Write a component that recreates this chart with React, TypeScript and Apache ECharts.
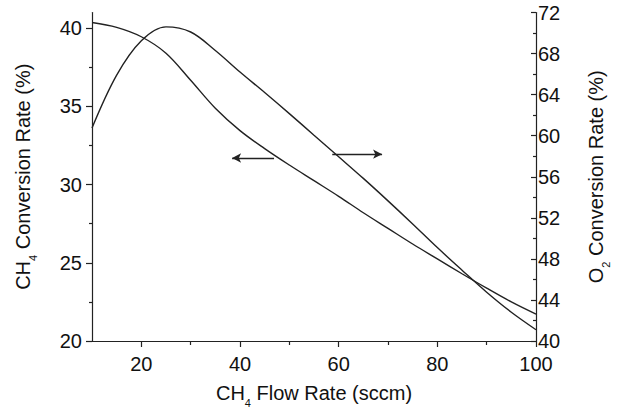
import React, { useEffect, useRef } from 'react';
import * as echarts from 'echarts';

// CH4 flow rate (sccm)
const flowRate = [10, 15, 20, 25, 30, 35, 40, 45, 50, 55, 60, 65, 70, 75, 80, 85, 90, 95, 100];
// CH4 conversion rate (%) - left axis
const ch4Conversion = [40.36, 40.05, 39.45, 38.4, 36.67, 34.88, 33.45, 32.3, 31.25, 30.25, 29.25, 28.2, 27.2, 26.2, 25.25, 24.3, 23.38, 22.5, 21.72];
// O2 conversion rate (%) - right axis
const o2Conversion = [60.75, 65.9, 69.25, 70.6, 70.1, 68.3, 66.2, 64.2, 62.15, 60.05, 57.95, 55.84, 53.65, 51.4, 49.1, 46.9, 44.75, 42.8, 41.1];

const xMajorTicks = [20, 40, 60, 80, 100];
const xMinorTicks = [30, 50, 70, 90];
const leftMajorTicks = [20, 25, 30, 35, 40];
const leftMinorTicks = [22.5, 27.5, 32.5, 37.5];

// annotation arrows (data coordinates: [flow, value])
const leftArrowFrom = [46.9, 31.7];
const leftArrowTo = [38.4, 31.7];
const rightArrowFrom = [58.7, 58.2];
const rightArrowTo = [68.8, 58.2];

const FONT = '"Liberation Sans", Arial, sans-serif';
const INK = '#111';
const LINE = '#222';

export default function App() {
  const ref = useRef<HTMLDivElement>(null);
  useEffect(() => {
    if (!ref.current) return;
    const chart = echarts.init(ref.current, undefined, { renderer: 'svg' });
    const titleStyle = {
      fontSize: 20,
      fontFamily: FONT,
      color: INK,
      rich: {
        s: { fontSize: 11, fontFamily: FONT, color: INK, padding: [19, 0, 0, 0] },
      },
    };
    const tickLabel = { fontSize: 20, fontFamily: FONT, color: INK };
    chart.setOption({
      animation: false,
      backgroundColor: '#fff',
      grid: { left: 92, right: 82, top: 12.5, bottom: 68.5 },
      xAxis: [
        {
          type: 'value',
          min: 10,
          max: 100,
          position: 'bottom',
          name: 'CH{s|4} Flow Rate (sccm)',
          nameLocation: 'middle',
          nameGap: 37,
          nameTextStyle: titleStyle,
          axisLine: { show: true, lineStyle: { color: LINE, width: 1.2 } },
          axisTick: { show: true, length: 6, customValues: xMajorTicks, lineStyle: { color: LINE, width: 1.2 } },
          axisLabel: { ...tickLabel, margin: 13, customValues: xMajorTicks },
          splitLine: { show: false },
        },
        {
          type: 'value',
          min: 10,
          max: 100,
          position: 'bottom',
          axisLine: { show: false },
          axisTick: { show: true, length: 4, customValues: xMinorTicks, lineStyle: { color: LINE, width: 1.2 } },
          axisLabel: { show: false },
          splitLine: { show: false },
        },
      ],
      yAxis: [
        {
          type: 'value',
          min: 20,
          max: 41,
          position: 'left',
          name: 'CH{s|4} Conversion Rate (%)',
          nameLocation: 'middle',
          nameRotate: 90,
          nameGap: 54,
          nameTextStyle: titleStyle,
          axisLine: { show: true, lineStyle: { color: LINE, width: 1.2 } },
          axisTick: { show: true, length: 6, customValues: leftMajorTicks, lineStyle: { color: LINE, width: 1.2 } },
          axisLabel: { ...tickLabel, margin: 10, customValues: leftMajorTicks },
          splitLine: { show: false },
        },
        {
          type: 'value',
          min: 40,
          max: 72,
          interval: 4,
          position: 'right',
          name: 'O{s|2} Conversion Rate (%)',
          nameLocation: 'middle',
          nameRotate: 90,
          nameGap: 45,
          nameTextStyle: titleStyle,
          axisLine: { show: true, lineStyle: { color: LINE, width: 1.2 } },
          axisTick: { show: true, inside: true, length: 5, lineStyle: { color: LINE, width: 1.2 } },
          minorTick: { show: true, splitNumber: 2, length: 3, lineStyle: { color: LINE, width: 1.2 } },
          axisLabel: { ...tickLabel, margin: 2 },
          splitLine: { show: false },
        },
        {
          type: 'value',
          min: 20,
          max: 41,
          position: 'left',
          axisLine: { show: false },
          axisTick: { show: true, length: 3, customValues: leftMinorTicks, lineStyle: { color: LINE, width: 1.2 } },
          axisLabel: { show: false },
          splitLine: { show: false },
        },
      ],
      series: [
        {
          type: 'line',
          xAxisIndex: 0,
          yAxisIndex: 0,
          data: flowRate.map((x, i) => [x, ch4Conversion[i]]),
          smooth: 0.35,
          showSymbol: false,
          symbol: 'none',
          lineStyle: { color: LINE, width: 1.4 },
          silent: true,
          markLine: {
            silent: true,
            symbol: ['none', 'arrow'],
            symbolSize: [7, 9],
            label: { show: false },
            lineStyle: { color: LINE, width: 1.4, type: 'solid' },
            data: [[{ coord: leftArrowFrom }, { coord: leftArrowTo }]],
          },
        },
        {
          type: 'line',
          xAxisIndex: 0,
          yAxisIndex: 1,
          data: flowRate.map((x, i) => [x, o2Conversion[i]]),
          smooth: 0.35,
          showSymbol: false,
          symbol: 'none',
          lineStyle: { color: LINE, width: 1.4 },
          silent: true,
          markLine: {
            silent: true,
            symbol: ['none', 'arrow'],
            symbolSize: [7, 9],
            label: { show: false },
            lineStyle: { color: LINE, width: 1.4, type: 'solid' },
            data: [[{ coord: rightArrowFrom }, { coord: rightArrowTo }]],
          },
        },
      ],
    });
    return () => chart.dispose();
  }, []);
  return (
    <div
      ref={ref}
      style={{ position: 'fixed', left: 0, top: 0, width: 619, height: 413, background: '#fff' }}
    />
  );
}
